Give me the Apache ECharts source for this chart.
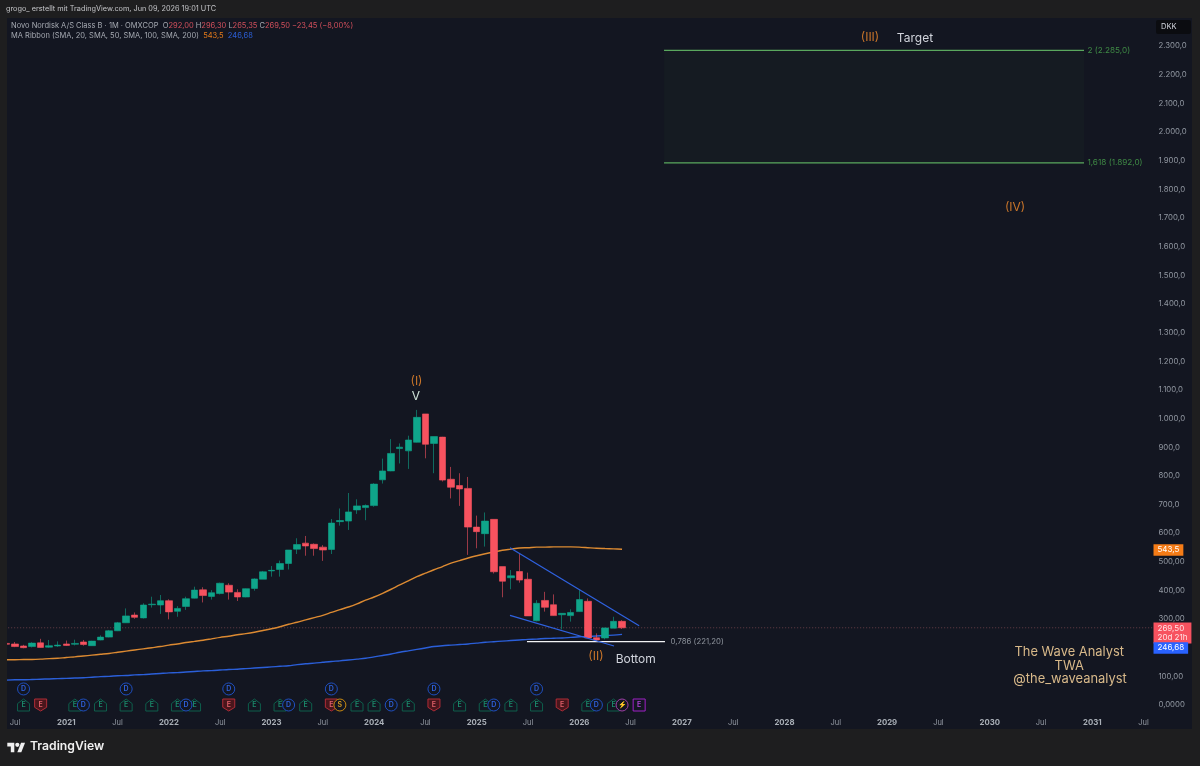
<!DOCTYPE html>
<html><head><meta charset="utf-8">
<style>html,body{margin:0;padding:0;background:#1e1e1f}#c{width:1200px;height:766px}</style>
<script src="https://cdn.jsdelivr.net/npm/echarts@6/dist/echarts.min.js"></script>
</head><body><div id="c"></div>
<script>
// Monthly candles, Jun 2020 .. Jun 2026
const opens=[215,213,206,204,217,202,206,213,212,220,207,227,237,259,287,314,304,350,349,364,327,344,373,402,379,389,418,393,377,407,439,468,473,494,544,565,561,551,543,640,642,681,689,696,786,817,895,887,917,1016,913,935,788,766,756,621,598,648,483,444,466,439,294,365,350,315,312,326,362,235,234,268,292];
const closes=[212,204,200,216,201,207,209,208,215,211,223,237,259,287,311,306,349,352,364,325,337,371,401,382,392,425,394,377,406,440,465,470,494,541,560,555,546,541,635,644,674,695,696,771,817,878,900,925,1004,910,937,785,760,754,621,605,642,465,432,451,436,311,355,341,312,320,323,368,234,227,269,292,269.5];
const highs=[217,220,210,219,231,227,222,225,228,227,224,243,262,290,337,323,355,378,384,369,345,378,413,411,401,427,425,404,407,442,468,485,504,541,582,590,564,558,649,686,740,718,700,774,860,928,913,940,1030,1016,937,936,831,809,796,661,672,648,483,471,529,462,366,395,386,320,334,401,372,250,270,308,296.3];
const lows=[210,202,198,201,200,200,203,206,208,207,206,226,236,258,286,301,302,340,318,299,308,332,372,358,368,386,368,363,376,399,439,448,448,473,527,521,521,503,527,626,611,667,645,692,773,816,843,824,916,861,809,780,721,695,524,547,553,459,376,404,427,311,292,326,311,264,291,325,234,220,229,268,265.35];
const sma20=[158,158,159,159,160,162,163,166,168,171,174,177,180,184,188,192,196,200,204,209,213,218,222,226,231,236,240,245,249,254,260,266,273,282,289,297,305,313,323,333,342,353,366,377,390,404,419,433,448,460,472,483,495,504,513,521,528,534,540,544,548,549,551,551,552,552,552,551,549,547,546,545,543.5];
const sma200=[87,88,88,89,90,91,92,93,94,95,97,99,100,102,103,105,106,108,110,112,113,115,117,119,120,122,124,125,127,129,131,133,135,137,141,144,146,149,152,154,157,160,163,168,173,178,184,189,194,199,204,207,209,211,213,216,219,221,223,225,227,229,230,232,233,234,236,238,239,241,242,244,246.68];
// Price axis tick labels, from 0 upward in steps of 100
const priceTickLabels=['0,0000','100,00','200,00','300,00','400,00','500,00','600,0','700,0','800,0','900,0','1.000,0','1.100,0','1.200,0','1.300,0','1.400,0','1.500,0','1.600,0','1.700,0','1.800,0','1.900,0','2.000,0','2.100,0','2.200,0','2.300,0'];
// Corporate events
const earningsGood=['2020-08','2021-02','2021-05','2021-08','2021-11','2022-02','2022-04','2022-11','2023-02','2023-05','2023-11','2024-01','2024-05','2024-11','2025-02','2025-05','2025-08','2026-02','2026-05'];
const earningsBad=['2020-10','2022-08','2023-08','2024-08','2025-11'];
const dividendsLow=['2021-03','2022-03','2023-03','2024-03','2025-03','2026-03'];
const dividendsHigh=['2020-08','2021-08','2022-08','2023-08','2024-08','2025-08'];
const splits=['2023-09'];
const flashes=['2026-06'];
const upcoming=['2026-08'];
// Drawn levels / trendlines, x in months from the left edge of the plot
const fibTarget=[[77.41,2285],[126.53,2285]];
const fibBase=[[77.41,1892],[126.53,1892]];
const fibBottom=[[61.38,221.2],[77.52,221.2]];
const wedgeUpper=[[59.39,549],[74.5,276.8]];
const wedgeLower=[[59.39,313],[71.56,206]];
const lastPrice=[[0,269.5],[134.6,269.5]];

const BG='#131621',OUT='#1e1e1f',UP='#0fa58a',DOWN='#f7525f',GREY='#9298a2';
const FONT='Inter, Roboto, sans-serif';
const TXT=7.5;
const pad=n=>String(n).padStart(2,'0');
const categories=[];
for(let i=0;i<135;i++){const m=5+i;categories.push((2020+Math.floor(m/12))+'-'+pad(m%12+1));}
const candles=opens.map((o,i)=>[o,closes[i],lows[i],highs[i]]);

const c=echarts.init(document.getElementById('c'),null,{renderer:'canvas'});
const eventSeries=(list,y,symbol,stroke,fill,text,letter)=>({
  type:'scatter',xAxisIndex:0,yAxisIndex:0,z:5,symbol,symbolSize:12,silent:true,
  itemStyle:{color:fill,borderColor:stroke,borderWidth:1,opacity:1},
  label:{show:true,position:'inside',formatter:letter,color:text,fontSize:7,fontWeight:600,fontFamily:FONT,offset:[0,0]},
  data:list.map(m=>[m,y])
});
const house='path://M0 5 L6 0 L12 5 L12 13 L0 13 Z';
const shield='path://M0 0 L12 0 L12 9 L6 13 L0 9 Z';
const note=(text,x,y,color,size,extra)=>({name:text,value:[x,y],label:Object.assign({show:true,position:'inside',formatter:'{b}',color,fontSize:size,fontFamily:FONT},extra||{})});
const fibLine=(d,color,w)=>({type:'line',xAxisIndex:1,yAxisIndex:0,data:d,showSymbol:false,silent:true,z:4,lineStyle:{color,width:w}});
const notes=[
 note('(III)',101.5,2331,'#c9752a',12),
 note('Target',106.76,2328,'#d1d4dc',12),
 note('(IV)',118.46,1738,'#c9752a',12),
 note('(I)',48.46,1131,'#c9752a',12),
 note('V',48.4,1078,'#cfe3d8',12),
 note('(II)',69.45,171,'#c9752a',12),
 note('Bottom',74.1,160,'#d1d4dc',12),
 note('The Wave Analyst',124.8,185,'#d8b98a',12.9),
 note('TWA',124.8,136,'#d8b98a',12.9),
 note('@the_waveanalyst',124.9,91,'#d8b98a',12.9),
 note('2 (2.285,0)',126.75,2285,'#3f8a45',8.2,{position:'right',distance:1}),
 note('1,618 (1.892,0)',126.75,1892,'#3f8a45',8.2,{position:'right',distance:1}),
 note('0,786 (221,20)',78.0,221.2,'#8c929b',7.8,{position:'right',distance:1}),
 note('543,5',134.6,541,'#fff',8,{position:'right',distance:0,backgroundColor:'#f57c17',padding:[2,4,1.5,4]}),
 note('269,50\n20d 21h',134.6,251,'#ffe3e5',8,{position:'right',distance:0,backgroundColor:DOWN,padding:[1,4,1,4],lineHeight:9.5}),
 note('246,68',134.6,199,'#fff',8,{position:'right',distance:0,backgroundColor:'#2962ff',padding:[2,4,1.5,4]})
];
c.setOption({
 animation:false,backgroundColor:OUT,
 grid:{left:2.175,top:17.4,width:1154.25,height:716.25,containLabel:false},
 xAxis:[{
   type:'category',data:categories,boundaryGap:true,position:'bottom',
   axisLine:{show:false},axisTick:{show:false},splitLine:{show:false},
   axisLabel:{inside:true,margin:7,color:GREY,fontSize:TXT,fontFamily:FONT,hideOverlap:false,
     interval:(i,v)=>/-(01|07)$/.test(v),
     formatter:v=>v.endsWith('-01')?'{y|'+v.slice(0,4)+'}':'Jul',
     rich:{y:{color:'#aab0b8',fontSize:TXT+0.3,fontWeight:700,fontFamily:FONT}}}
 },{type:'value',min:0,max:135,show:false,splitLine:{show:false}}],
 yAxis:[{
   type:'value',position:'right',min:-100,max:2400,interval:100,
   axisLine:{show:false},axisTick:{show:false},splitLine:{show:false},
   axisLabel:{margin:2,color:GREY,fontSize:7.8,fontFamily:FONT,showMinLabel:false,showMaxLabel:false,
     formatter:v=>priceTickLabels[Math.round(v/100)]||''}
 }],
 series:[
  {type:'line',name:'SMA 20',xAxisIndex:0,yAxisIndex:0,data:sma20,showSymbol:false,smooth:0.3,z:2,silent:true,lineStyle:{color:'#dc8a32',width:1.4}},
  {type:'line',name:'SMA 200',xAxisIndex:0,yAxisIndex:0,data:sma200,showSymbol:false,smooth:0.3,z:2,silent:true,lineStyle:{color:'#2b5fd9',width:1.4}},
  {type:'line',xAxisIndex:1,yAxisIndex:0,data:lastPrice,showSymbol:false,silent:true,z:1,lineStyle:{color:'#7d4a50',width:0.8,type:[1,2]}},
  {type:'candlestick',xAxisIndex:0,yAxisIndex:0,data:candles,barWidth:7,z:3,silent:true,
    itemStyle:{color:UP,color0:DOWN,borderColor:UP,borderColor0:DOWN,borderWidth:0.6}},
  Object.assign(fibLine(fibTarget,'#5aa85e',1.2),{markArea:{silent:true,itemStyle:{color:'rgba(76,175,80,0.035)'},data:[[{coord:[77.41,2285]},{coord:[126.53,1892]}]]}}),
  fibLine(fibBase,'#5aa85e',1.2),
  fibLine(fibBottom,'#f2f3f5',1.2),
  fibLine(wedgeUpper,'#2f62e0',1.2),
  fibLine(wedgeLower,'#2f62e0',1.2),
  eventSeries(earningsGood,0,house,'#0e5f4c',BG,'#1b8a6b','E'),
  eventSeries(earningsBad,0,shield,'#b02c37','#4a161c','#e0606a','E'),
  eventSeries(dividendsLow,0,'circle','#1f4fc0',BG,'#2f62e0','D'),
  eventSeries(dividendsHigh,56,'circle','#1f4fc0',BG,'#2f62e0','D'),
  eventSeries(splits,0,'circle','#c98a10',BG,'#d49a20','S'),
  eventSeries(flashes,0,'circle','#a040a8',BG,'#c060c8','⚡'),
  eventSeries(upcoming,0,'rect','#a020c8',BG,'#b040d8','E'),
  {type:'scatter',xAxisIndex:1,yAxisIndex:0,z:8,symbolSize:1,silent:true,itemStyle:{color:'rgba(0,0,0,0)',opacity:1},data:notes}
 ],
 graphic:[
  {type:'rect',z:-10,silent:true,shape:{x:7,y:18,width:1185,height:711},style:{fill:BG}},
  {type:'rect',z:100,silent:true,shape:{x:0,y:0,width:7,height:766},style:{fill:OUT}},
  {type:'rect',z:100,silent:true,shape:{x:0,y:729,width:1200,height:37},style:{fill:OUT}},
  {type:'rect',z:100,silent:true,shape:{x:0,y:0,width:1200,height:18},style:{fill:OUT}},
  {type:'text',z:101,x:6,y:5,style:{text:'grogo_ erstellt mit TradingView.com, Jun 09, 2026 19:01 UTC',fill:'#c4c5c8',font:'7.3px '+FONT}},
  {type:'text',z:101,x:11,y:22,style:{text:'{g|Novo Nordisk A/S Class B · 1M · OMXCOP  O}{r|292,00}{g| H}{r|296,30}{g| L}{r|265,35}{g| C}{r|269,50}{r| −23,45 (−8,00%)}',
     font:TXT+'px '+FONT,rich:{g:{fill:'#a5a9b1',font:TXT+'px '+FONT},r:{fill:'#d4505c',font:TXT+'px '+FONT}}}},
  {type:'text',z:101,x:11,y:32,style:{text:'{g|MA Ribbon (SMA, 20, SMA, 50, SMA, 100, SMA, 200)  }{o|543,5}{g|  }{b|246,68}',
     font:TXT+'px '+FONT,rich:{g:{fill:'#a5a9b1',font:TXT+'px '+FONT},o:{fill:'#e57a1a',font:TXT+'px '+FONT},b:{fill:'#2c5fd8',font:TXT+'px '+FONT}}}},
  {type:'rect',z:101,silent:true,shape:{x:1156,y:20,width:35,height:14,r:2},style:{fill:'#0b0c10'}},
  {type:'text',z:102,x:1161,y:23,style:{text:'DKK',fill:'#d1d4dc',font:'7.5px '+FONT}},
  {type:'polygon',z:101,silent:true,shape:{points:[[7.3,742.7],[14.3,742.7],[14.3,752.3],[10.8,752.3],[10.8,746.4],[7.3,746.4]]},style:{fill:'#f0f0f0'}},
  {type:'polygon',z:101,silent:true,shape:{points:[[21.3,752.3],[17.3,752.3],[21.05,742.7],[25.05,742.7]]},style:{fill:'#f0f0f0'}},
  {type:'circle',z:101,silent:true,shape:{cx:17.3,cy:744.8,r:2.1},style:{fill:'#f0f0f0'}},
  {type:'text',z:101,x:30,y:740,style:{text:'TradingView',fill:'#f0f0f0',font:'600 12.2px '+FONT}}
 ]
});
</script></body></html>
